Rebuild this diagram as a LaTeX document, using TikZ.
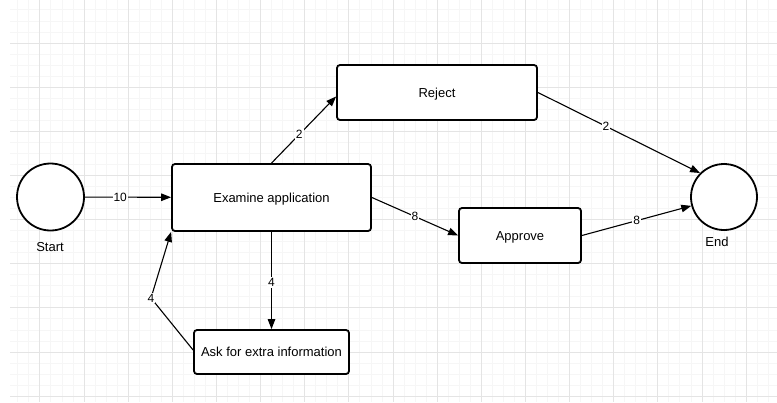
\documentclass[tikz,border=0pt]{standalone}
\usepackage{fontspec}
\setmainfont{Liberation Sans}
\usetikzlibrary{arrows.meta,calc}
\definecolor{gridminor}{RGB}{246,246,246}
\definecolor{gridmajor}{RGB}{228,228,228}
\begin{document}
\begin{tikzpicture}[x=1pt,y=-1pt,
  box/.style={draw,line width=1.8pt,rounded corners=3pt,fill=white,
    font=\fontsize{13}{15}\selectfont,inner sep=0pt,
    text height=9pt,text depth=0pt},
  state/.style={draw,circle,line width=1.8pt,fill=white,
    minimum size=67pt,inner sep=0pt},
  flow/.style={line width=1.1pt,-{Triangle[length=10pt,width=7.5pt]}},
  wt/.style={fill=white,inner sep=1pt,font=\fontsize{12}{13}\selectfont},
  caption/.style={font=\fontsize{13}{15}\selectfont},
  minorline/.style={draw=gridminor,line width=0.8pt},
  majorline/.style={draw=gridmajor,line width=0.9pt}]

\useasboundingbox (0,0) rectangle (777,402);

% background grid
\begin{scope}
  \clip (10,0) rectangle (777,402);
  \foreach \i in {0,...,70}
    \draw[minorline] ({6.755+11.035*\i},0) -- ({6.755+11.035*\i},402);
  \foreach \j in {0,...,37}
    \draw[minorline] (0,{-1.14+11.035*\j}) -- (777,{-1.14+11.035*\j});
  \foreach \k in {0,...,17}
    \draw[majorline] ({39.86+44.14*\k},0) -- ({39.86+44.14*\k},402);
  \foreach \k in {0,...,9}
    \draw[majorline] (0,{-1.14+44.14*\k}) -- (777,{-1.14+44.14*\k});
\end{scope}

% states and activities
\node[state] (start) at (50.5,197) {};
\node[caption] (startlbl) at (50,247) {Start};
\node[state,minimum size=66pt] (end) at (724,197) {};
\node[caption] (endlbl) at (717,242) {End};

\node[box,minimum width=199pt,minimum height=67pt] (examine) at (271.5,197.5) {Examine application};
\node[box,minimum width=200pt,minimum height=55pt] (reject) at (437,92.5) {Reject};
\node[box,minimum width=122pt,minimum height=55pt] (approve) at (520,235.5) {Approve};
\node[box,minimum width=155pt,minimum height=44pt] (ask) at (271.5,352) {Ask for extra information};

\coordinate (bend) at (151,298);

% transitions
\draw[flow] (start) -- node[wt,pos=0.41] {10} (examine);
\draw[flow] (examine.north) -- node[wt,pos=0.43] {2} ([yshift=-4pt]reject.west);
\draw[flow] (reject.east) -- node[wt,pos=0.42] {2} (end.135);
\draw[flow] (examine.east) -- node[wt,midway] {8} (approve.west);
\draw[flow] (approve.east) -- node[wt,midway] {8} (end);
\draw[flow] (examine.south) -- node[wt,pos=0.52] {4} (ask.north);
\draw[flow] ([yshift=2pt]ask.west) -- (bend) -- (examine.south west);
\node[wt] (bendlbl) at (bend) {4};

\end{tikzpicture}
\end{document}
